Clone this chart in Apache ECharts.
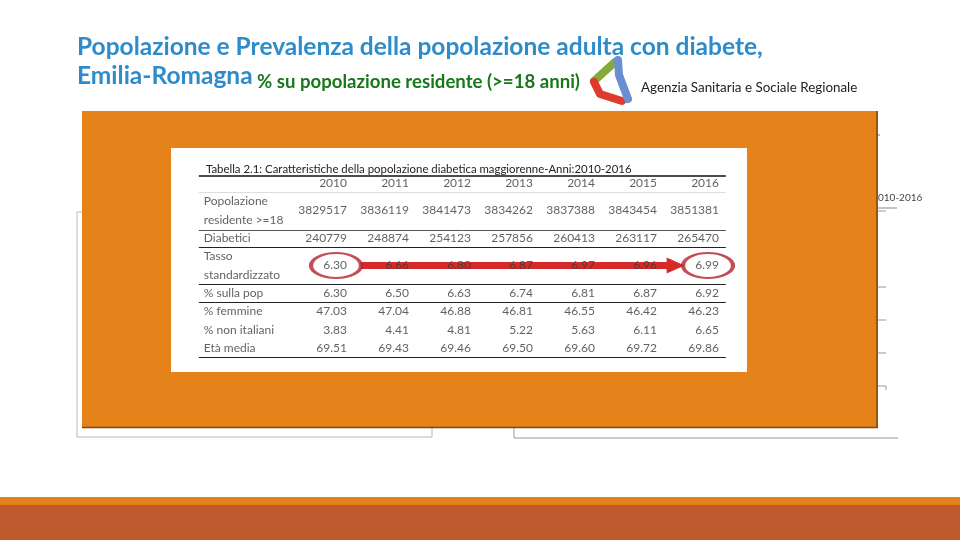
<!DOCTYPE html>
<html>
<head>
<meta charset="utf-8">
<script src="https://cdn.jsdelivr.net/npm/echarts@6/dist/echarts.min.js"></script>
<style>
html,body{margin:0;padding:0;background:#fff;}
#c{width:960px;height:540px;}
</style>
</head>
<body>
<div id="c"></div>
<script>
// ---------- data ----------
const years = ['2010', '2011', '2012', '2013', '2014', '2015', '2016'];
const rowLabels = ['Popolazione\nresidente >=18', 'Diabetici', 'Tasso\nstandardizzato', '% sulla pop', '% femmine', '% non italiani', 'Età media'];
const popolazione = [3829517, 3836119, 3841473, 3834262, 3837388, 3843454, 3851381];
const diabetici = [240779, 248874, 254123, 257856, 260413, 263117, 265470];
const tassoStandardizzato = [6.30, 6.66, 6.80, 6.87, 6.97, 6.96, 6.99];
const percSullaPop = [6.30, 6.50, 6.63, 6.74, 6.81, 6.87, 6.92];
const percFemmine = [47.03, 47.04, 46.88, 46.81, 46.55, 46.42, 46.23];
const percNonItaliani = [3.83, 4.41, 4.81, 5.22, 5.63, 6.11, 6.65];
const etaMedia = [69.51, 69.43, 69.46, 69.50, 69.60, 69.72, 69.86];
const tableTitle = 'Tabella 2.1: Caratteristiche della popolazione diabetica maggiorenne-Anni:2010-2016';
const slideTitle1 = 'Popolazione e Prevalenza della popolazione adulta con diabete,';
const slideTitle2 = 'Emilia-Romagna';
const slideSubtitle = '% su popolazione residente (>=18 anni)';
const agencyName = 'Agenzia Sanitaria e Sociale Regionale';
const hiddenChartLabel = '010-2016';

// ---------- table build ----------
const rowValues = [
  popolazione.map(v => String(v)),
  diabetici.map(v => String(v)),
  tassoStandardizzato.map(v => v.toFixed(2)),
  percSullaPop.map(v => v.toFixed(2)),
  percFemmine.map(v => v.toFixed(2)),
  percNonItaliani.map(v => v.toFixed(2)),
  etaMedia.map(v => v.toFixed(2))
];
// row centers in "line" units (header at 0)
const rowCenter = [];
const rowEnd = [];
let start = 1;
rowLabels.forEach(l => {
  const n = l.split('\n').length;
  rowCenter.push(start + (n - 1) / 2);
  start += n;
  rowEnd.push(start - 0.5);
});
const TASSO = 2;
const cellData = [];
rowValues.forEach((vals, r) => vals.forEach((v, c) => cellData.push({value: [c, rowCenter[r]], label: {formatter: v}})));
const headerData = years.map((y, c) => ({value: [c, 0], label: {formatter: y}}));
const LABEL_X = -2.31;
const labelData = rowLabels.map((l, r) => ({value: [LABEL_X, rowCenter[r]], label: {formatter: l}}));
const LINE_L = -2.39, LINE_R = 6.11;
function hline(y, style) {
  return [{coord: [LINE_L, y], lineStyle: style}, {coord: [LINE_R, y]}];
}
const black = {color: '#222', width: 1.2, type: 'solid'};
const sepLines = [
  hline(-0.42, {color: '#111', width: 1.5, type: 'solid'}),
  hline(0.5, {color: '#dddddd', width: 1, type: 'solid'}),
  hline(rowEnd[0] + 0.1, {color: '#555', width: 1, type: 'solid'}),
  hline(rowEnd[1], black),
  hline(rowEnd[2], black),
  hline(rowEnd[3], black),
  hline(rowEnd[6], black)
];

const font = 'Lato, "Liberation Sans", sans-serif';
const cellLabel = {
  show: true, position: [0, 0], align: 'right', verticalAlign: 'middle',
  fontFamily: font, fontSize: 12, color: '#3a3a3a'
};

const chart = echarts.init(document.getElementById('c'), null, {renderer: 'canvas'});
chart.setOption({
  animation: false,
  backgroundColor: '#ffffff',
  title: [
    {text: slideTitle1, left: 72, top: 30, textStyle: {fontFamily: font, fontWeight: 'bold', fontSize: 24.5, color: '#2E8CCB'}},
    {text: slideTitle2, left: 72, top: 59, textStyle: {fontFamily: font, fontWeight: 'bold', fontSize: 24.5, color: '#2E8CCB'}},
    {text: slideSubtitle, left: 252, top: 67, textStyle: {fontFamily: font, fontWeight: 'bold', fontSize: 18.6, color: '#18771A'}},
    {text: agencyName, left: 636, top: 76, textStyle: {fontFamily: font, fontWeight: 'normal', fontSize: 13.4, color: '#222'}},
    {text: tableTitle, left: 201, top: 159, textStyle: {fontFamily: font, fontWeight: 'normal', fontSize: 11.4, color: '#222'}}
  ],
  graphic: [
    // faded chart remnants behind the orange box
    {type: 'polyline', z: 0, shape: {points: [[82, 212], [77, 212], [77, 437], [432, 437], [432, 428]]}, style: {stroke: '#b8b8b8', lineWidth: 1, fill: null}},
    {type: 'polyline', z: 0, shape: {points: [[514, 428], [514, 438], [898, 438]]}, style: {stroke: '#999', lineWidth: 1, fill: null}},
    {type: 'line', z: 0, shape: {x1: 878, y1: 135, x2: 880, y2: 135}, style: {stroke: '#777', lineWidth: 1}},
    {type: 'line', z: 0, shape: {x1: 878, y1: 208, x2: 897, y2: 208}, style: {stroke: '#888', lineWidth: 1}},
    {type: 'line', z: 0, shape: {x1: 878, y1: 211, x2: 886, y2: 211}, style: {stroke: '#999', lineWidth: 1}},
    {type: 'line', z: 0, shape: {x1: 878, y1: 287, x2: 886, y2: 287}, style: {stroke: '#999', lineWidth: 1}},
    {type: 'line', z: 0, shape: {x1: 878, y1: 320, x2: 886, y2: 320}, style: {stroke: '#999', lineWidth: 1}},
    {type: 'line', z: 0, shape: {x1: 878, y1: 353, x2: 886, y2: 353}, style: {stroke: '#999', lineWidth: 1}},
    {type: 'polyline', z: 0, shape: {points: [[878, 386], [886, 386], [886, 390]]}, style: {stroke: '#999', lineWidth: 1, fill: null}},
    {type: 'text', z: 0, left: 878, top: 193, style: {text: hiddenChartLabel, fontFamily: font, fontSize: 10, fill: '#444'}},
    // orange frame
    {type: 'rect', z: 1, shape: {x: 82, y: 111, width: 796, height: 317}, style: {fill: '#E5821A'}},
    {type: 'line', z: 1, shape: {x1: 877, y1: 111, x2: 877, y2: 428}, style: {stroke: '#9A560F', lineWidth: 2}},
    {type: 'line', z: 1, shape: {x1: 82, y1: 427.5, x2: 878, y2: 427.5}, style: {stroke: '#7E4A12', lineWidth: 1.5}},
    {type: 'rect', z: 1, shape: {x: 171, y: 148, width: 576, height: 224}, style: {fill: '#ffffff'}},
    // bottom band
    {type: 'rect', z: 1, shape: {x: 0, y: 497, width: 960, height: 8}, style: {fill: '#E3821A'}},
    {type: 'rect', z: 1, shape: {x: 0, y: 505, width: 960, height: 35}, style: {fill: '#BE5A2E'}},
    // logo
    {type: 'polyline', z: 2, shape: {points: [[615, 62], [594, 81]]}, style: {stroke: '#86A93C', lineWidth: 8, lineCap: 'round', lineJoin: 'round'}},
    {type: 'polyline', z: 2, shape: {points: [[594, 82], [600, 94], [622, 101]]}, style: {stroke: '#DE3B2E', lineWidth: 8, lineCap: 'round', lineJoin: 'round'}},
    {type: 'polyline', z: 2, shape: {points: [[618, 60], [619, 75], [628, 99]]}, style: {stroke: '#6A8ED2', lineWidth: 8, lineCap: 'round', lineJoin: 'round'}}
  ],
  grid: {left: 192, top: 183 - 2 * 18.33, width: 9 * 62, height: 12.5 * 18.33, containLabel: false},
  xAxis: {type: 'value', min: -2.5, max: 6.5, show: false},
  yAxis: {type: 'value', min: -2, max: 10.5, inverse: true, show: false},
  series: [
    {
      type: 'scatter', name: 'header', z: 5, symbolSize: 0, silent: true,
      data: headerData, label: cellLabel
    },
    {
      type: 'scatter', name: 'labels', z: 5, symbolSize: 0, silent: true,
      data: labelData,
      label: {show: true, position: [0, 0], align: 'left', verticalAlign: 'middle', fontFamily: font, fontSize: 12, lineHeight: 18.33, color: '#3a3a3a'}
    },
    {
      type: 'scatter', name: 'cells', z: 5, symbolSize: 0, silent: true,
      data: cellData, label: cellLabel,
      markLine: {
        silent: true, symbol: ['none', 'none'], label: {show: false},
        data: sepLines
      }
    },
    {
      type: 'scatter', name: 'highlight', z: 8, silent: true,
      data: [[0, rowCenter[TASSO]], [6, rowCenter[TASSO]]],
      symbol: 'circle', symbolSize: [50, 25], symbolOffset: [-11, 0],
      itemStyle: {color: 'rgba(0,0,0,0)', borderColor: '#B3232B', borderWidth: 3},
      markLine: {
        silent: true, symbol: ['none', 'triangle'], symbolSize: [16, 18], label: {show: false},
        lineStyle: {color: '#D62A2A', width: 7, type: 'solid', opacity: 1},
        itemStyle: {color: '#D62A2A'},
        data: [[{coord: [0.22, rowCenter[TASSO]]}, {coord: [5.3, rowCenter[TASSO]]}]]
      }
    }
  ]
});
</script>
</body>
</html>
